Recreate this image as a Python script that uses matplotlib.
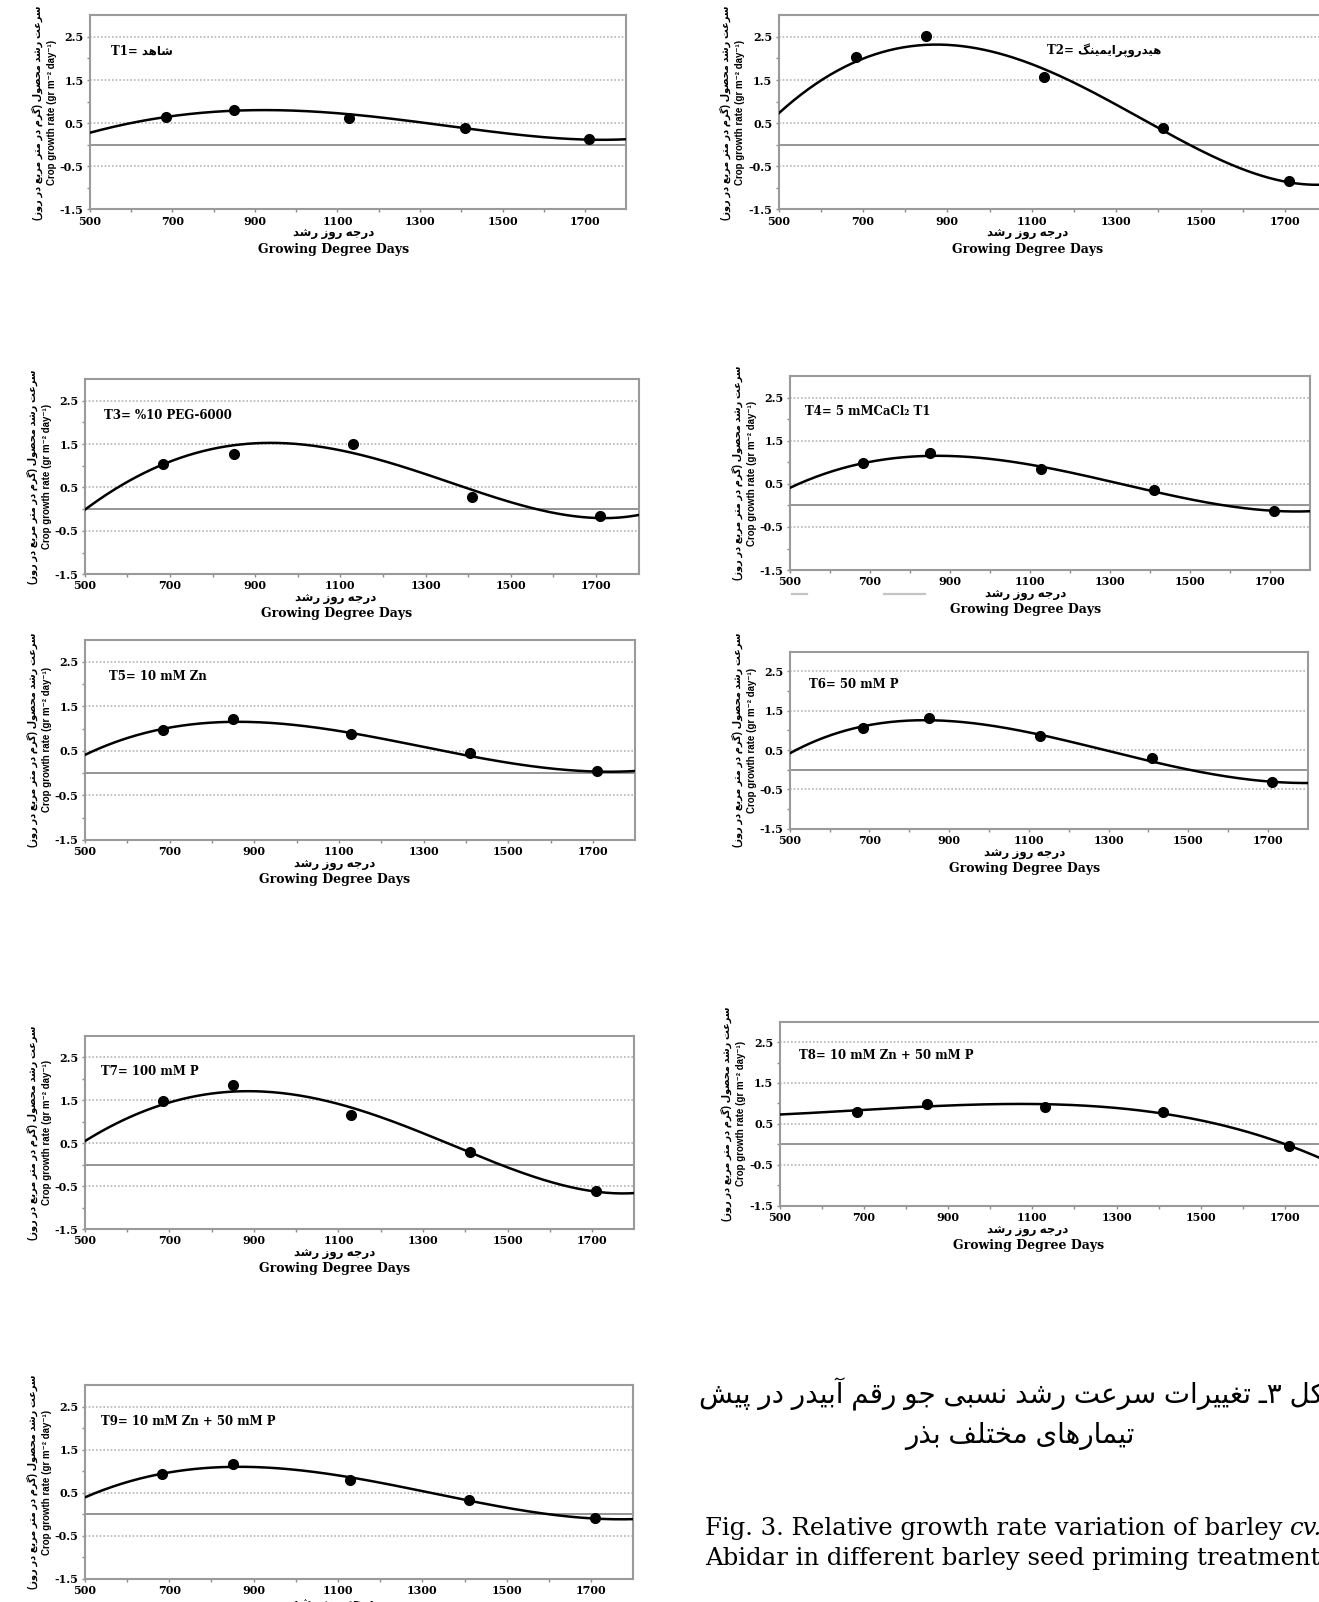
import numpy as np
import matplotlib
matplotlib.use('Agg')
import matplotlib.pyplot as plt
from matplotlib.lines import Line2D
from matplotlib.text import Annotation
from matplotlib.ticker import FixedLocator, FormatStrFormatter

plt.rcParams['axes.unicode_minus'] = False

# growing degree days of the five samplings and of the read-off fitted curve
gdd = [684, 850, 1129, 1410, 1710]
curve_gdd = [500, 600, 700, 800, 900, 1000, 1100, 1200, 1300, 1400, 1500, 1600, 1700, 1800]

# crop growth rate (gr m-2 day-1), observed points and fitted curve, T1..T9
t1_obs = [0.65, 0.81, 0.63, 0.38, 0.14]
t1_fit = [0.29, 0.48, 0.67, 0.77, 0.80, 0.79, 0.74, 0.64, 0.51, 0.38, 0.28, 0.18, 0.13, 0.12]
t2_obs = [2.03, 2.52, 1.56, 0.38, -0.85]
t2_fit = [0.76, 1.43, 1.96, 2.30, 2.38, 2.17, 1.84, 1.40, 0.93, 0.45, -0.20, -0.55, -0.82, -0.94]
t3_obs = [1.04, 1.28, 1.50, 0.28, -0.15]
t3_fit = [0.02, 0.56, 1.11, 1.40, 1.53, 1.52, 1.37, 1.10, 0.78, 0.45, 0.18, -0.07, -0.19, -0.15]
t4_obs = [0.98, 1.22, 0.85, 0.36, -0.12]
t4_fit = [0.42, 0.75, 1.00, 1.13, 1.17, 1.09, 0.94, 0.75, 0.55, 0.34, 0.15, -0.01, -0.12, -0.14]
t5_obs = [0.97, 1.21, 0.88, 0.46, 0.05]
t5_fit = [0.43, 0.75, 1.01, 1.14, 1.17, 1.10, 0.95, 0.75, 0.56, 0.40, 0.25, 0.11, 0.04, 0.04]
t6_obs = [1.07, 1.31, 0.86, 0.30, -0.31]
t6_fit = [0.43, 0.85, 1.12, 1.25, 1.26, 1.16, 0.95, 0.69, 0.45, 0.24, 0.02, -0.17, -0.31, -0.34]
t7_obs = [1.49, 1.85, 1.16, 0.29, -0.61]
t7_fit = [0.56, 1.06, 1.44, 1.67, 1.75, 1.65, 1.35, 1.05, 0.78, 0.42, -0.12, -0.42, -0.60, -0.66]
t8_obs = [0.79, 0.98, 0.92, 0.80, -0.05]
t8_fit = [0.73, 0.78, 0.84, 0.90, 0.95, 0.98, 0.99, 0.96, 0.88, 0.76, 0.59, 0.35, -0.01, -0.41]
t9_obs = [0.94, 1.18, 0.80, 0.34, -0.10]
t9_fit = [0.40, 0.73, 0.97, 1.08, 1.11, 1.05, 0.90, 0.72, 0.53, 0.33, 0.15, 0.01, -0.10, -0.12]

# Persian text is shaped by hand: isolated, final, initial, medial forms
FORMS = {
    'ا': ('\ufe8d', '\ufe8e'), 'آ': ('\ufe81', '\ufe82'),
    'د': ('\ufea9', '\ufeaa'), 'ذ': ('\ufeab', '\ufeac'),
    'ر': ('\ufead', '\ufeae'), 'ز': ('\ufeaf', '\ufeb0'),
    'و': ('\ufeed', '\ufeee'),
    'ب': ('\ufe8f', '\ufe90', '\ufe91', '\ufe92'),
    'پ': ('\ufb56', '\ufb57', '\ufb58', '\ufb59'),
    'ت': ('\ufe95', '\ufe96', '\ufe97', '\ufe98'),
    'ج': ('\ufe9d', '\ufe9e', '\ufe9f', '\ufea0'),
    'ح': ('\ufea1', '\ufea2', '\ufea3', '\ufea4'),
    'خ': ('\ufea5', '\ufea6', '\ufea7', '\ufea8'),
    'س': ('\ufeb1', '\ufeb2', '\ufeb3', '\ufeb4'),
    'ش': ('\ufeb5', '\ufeb6', '\ufeb7', '\ufeb8'),
    'ص': ('\ufeb9', '\ufeba', '\ufebb', '\ufebc'),
    'ع': ('\ufec9', '\ufeca', '\ufecb', '\ufecc'),
    'غ': ('\ufecd', '\ufece', '\ufecf', '\ufed0'),
    'ف': ('\ufed1', '\ufed2', '\ufed3', '\ufed4'),
    'ق': ('\ufed5', '\ufed6', '\ufed7', '\ufed8'),
    'ک': ('\ufb8e', '\ufb8f', '\ufb90', '\ufb91'),
    'گ': ('\ufb92', '\ufb93', '\ufb94', '\ufb95'),
    'ل': ('\ufedd', '\ufede', '\ufedf', '\ufee0'),
    'م': ('\ufee1', '\ufee2', '\ufee3', '\ufee4'),
    'ن': ('\ufee5', '\ufee6', '\ufee7', '\ufee8'),
    'ه': ('\ufee9', '\ufeea', '\ufeeb', '\ufeec'),
    'ی': ('\ufbfc', '\ufbfd', '\ufbfe', '\ufbff'),
    'ـ': ('ـ', 'ـ', 'ـ', 'ـ'),
}
MIRROR = {'(': ')', ')': '('}


def fa(s):
    out = []
    for i, ch in enumerate(s):
        if ch not in FORMS:
            out.append(MIRROR.get(ch, ch))
            continue
        prev = s[i - 1] if i > 0 else ''
        nxt = s[i + 1] if i + 1 < len(s) else ''
        f = FORMS[ch]
        back = prev in FORMS and len(FORMS[prev]) == 4
        fwd = len(f) == 4 and nxt in FORMS
        if back and fwd:
            out.append(f[3])
        elif back:
            out.append(f[1])
        elif fwd:
            out.append(f[2])
        else:
            out.append(f[0])
    return ''.join(out[::-1])


SERIF = ['DejaVu Serif', 'DejaVu Sans']
SANS = ['Liberation Sans', 'DejaVu Sans']

panels = [
    ('T1= ' + fa('شاهد'), t1_obs, t1_fit, (88, 613, 15, 205), 0.039),
    ('T2= ' + fa('هیدروپرایمینگ'), t2_obs, t2_fit, (762, 1299, 15, 205), 0.49),
    ('T3= %10 PEG-6000', t3_obs, t3_fit, (83, 625, 371, 562), 0.035),
    ('T4= 5 mMCaCl\u2082 T1', t4_obs, t4_fit, (773, 1282, 368, 558), 0.03),
    ('T5= 10 mM Zn', t5_obs, t5_fit, (83, 622, 626, 822), 0.044),
    ('T6= 50 mM P', t6_obs, t6_fit, (773, 1280, 638, 811), 0.037),
    ('T7= 100 mM P', t7_obs, t7_fit, (83, 621, 1014, 1203), 0.03),
    ('T8= 10 mM Zn + 50 mM P', t8_obs, t8_fit, (763, 1299, 1000, 1180), 0.035),
    ('T9= 10 mM Zn + 50 mM P', t9_obs, t9_fit, (83, 620, 1356, 1545), 0.03),
]

W, H = 1291.0, 1568.0
fig = plt.figure(figsize=(13.19, 16.02), dpi=100)

ylab_fa = fa('سرعت رشد محصول (گرم در متر مربع در روز)')
xlab_fa = fa('درجه روز رشد')
xs = np.linspace(500, 1800, 300)

for label, obs, fit, (l, r, t, b), lx in panels:
    ax = fig.add_axes([l / W, 1 - b / H, (r - l) / W, (b - t) / H])
    ax.set_xlim(500, 1800)
    ax.set_ylim(-1.5, 3.0)

    for g in [2.5, 1.5, 0.5, -0.5]:
        ax.axhline(g, color='#b5b5b5', lw=1.2, ls=(0, (1, 1.2)), zorder=1)
    ax.axhline(0, color='#8c8c8c', lw=1.3, zorder=1)

    poly = np.polynomial.Polynomial.fit(curve_gdd, fit, 4)
    ax.plot(xs, poly(xs), color='black', lw=1.8, zorder=3)
    ax.plot(gdd, obs, 'o', color='black', ms=7, zorder=4)

    for sp in ax.spines.values():
        sp.set_color('#9a9a9a')
        sp.set_linewidth(1.5)

    ax.xaxis.set_major_locator(FixedLocator([500, 700, 900, 1100, 1300, 1500, 1700]))
    ax.xaxis.set_minor_locator(FixedLocator([600, 800, 1000, 1200, 1400, 1600]))
    ax.yaxis.set_major_locator(FixedLocator([-1.5, -0.5, 0.5, 1.5, 2.5]))
    ax.yaxis.set_minor_locator(FixedLocator([-1, 0, 1, 2]))
    ax.yaxis.set_major_formatter(FormatStrFormatter('%.1f'))
    ax.tick_params(which='both', direction='out', color='#8c8c8c', width=1, length=2.5)
    ax.tick_params(axis='x', pad=2)
    ax.tick_params(axis='y', pad=2)
    for tl in ax.get_xticklabels() + ax.get_yticklabels():
        tl.set_fontfamily(SERIF)
        tl.set_fontweight('bold')
        tl.set_fontsize(8)

    ax.text(lx, 2.17, label, transform=ax.get_yaxis_transform(), family=SERIF,
            fontweight='bold', fontsize=8.5, va='center', ha='left')

    # two-line axis titles, Persian over English
    ax.annotate(xlab_fa, xy=(1090, 0), xycoords=('data', 'axes fraction'),
                xytext=(0, -18), textcoords='offset points', ha='center', va='center',
                family=SANS, fontweight='bold', fontsize=8.5)
    ax.annotate('Growing Degree Days', xy=(1090, 0), xycoords=('data', 'axes fraction'),
                xytext=(0, -28.5), textcoords='offset points', ha='center', va='center',
                family=SERIF, fontweight='bold', fontsize=9)
    ax.annotate(ylab_fa, xy=(0, 0.5), xycoords='axes fraction',
                xytext=(-38, 0), textcoords='offset points', ha='center', va='center',
                rotation=90, family=SANS, fontweight='bold', fontsize=7)
    ax.annotate('Crop growth rate (gr m\u207b\u00b2 day\u207b\u00b9)', xy=(0, 0.5),
                xycoords='axes fraction', xytext=(-27.5, 0), textcoords='offset points',
                ha='center', va='center', rotation=90, family=SANS, fontweight='bold',
                fontsize=7)

# two short grey rules left under the T4 panel
for x0, x1 in [(775, 790), (865, 905)]:
    fig.add_artist(Line2D([x0 / W, x1 / W], [1 - 581 / H, 1 - 581 / H],
                          color='#c4c4c4', lw=1.6))

# figure caption, Persian then English
fig.text(684 / W, 1 - 1365 / H, fa('شکل ۳ـ تغییرات سرعت رشد نسبی جو رقم آبیدر در پیش'),
         family=SANS, fontsize=20, ha='left', va='center')
fig.text(998 / W, 1 - 1406 / H, fa('تیمارهای مختلف بذر'),
         family=SANS, fontsize=20, ha='center', va='center')
cap = fig.text(690 / W, 1 - 1496 / H, 'Fig. 3. Relative growth rate variation of barley ',
               family=SERIF, fontsize=17.6, ha='left', va='center')
fig.add_artist(Annotation('cv.', xy=(1, 0), xycoords=cap, ha='left', va='bottom',
                          family=SERIF, fontsize=17.6, style='italic'))
fig.text(690 / W, 1 - 1525 / H, 'Abidar in different barley seed priming treatments',
         family=SERIF, fontsize=17.6, ha='left', va='center')

fig.savefig('out.png', dpi=100)
